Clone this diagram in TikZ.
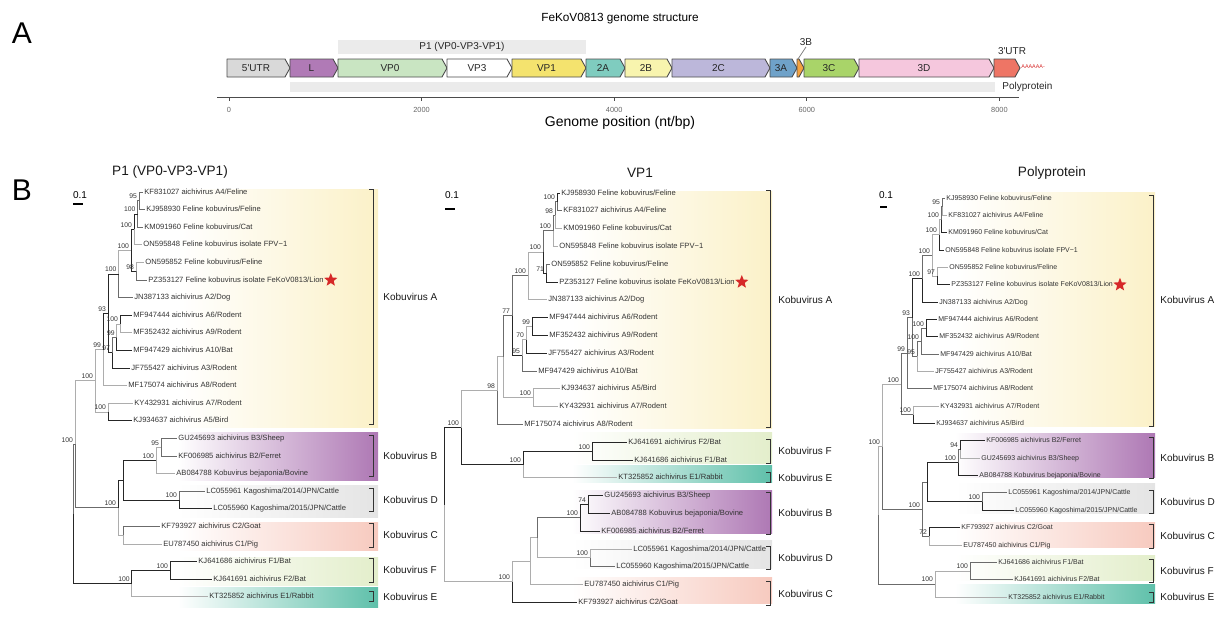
\documentclass[tikz,border=0pt]{standalone}
\usepackage{fontspec}
\setmainfont{Liberation Sans}
\usetikzlibrary{positioning,shapes.geometric}
\definecolor{gUTRfive}{HTML}{D9D9D9}
\definecolor{gL}{HTML}{B07AB6}
\definecolor{gVPzero}{HTML}{C9E5C2}
\definecolor{gVPone}{HTML}{F4E36E}
\definecolor{gTwoA}{HTML}{7FCCBF}
\definecolor{gTwoB}{HTML}{F8F4AE}
\definecolor{gTwoC}{HTML}{BCB7DA}
\definecolor{gThreeA}{HTML}{6FA2C9}
\definecolor{gThreeB}{HTML}{F4A23F}
\definecolor{gThreeC}{HTML}{A9D469}
\definecolor{gThreeD}{HTML}{F5C7DD}
\definecolor{gUTRthree}{HTML}{EE7565}
\definecolor{bandgrey}{HTML}{EBEBEB}
\definecolor{kA}{HTML}{FBF1C8}
\definecolor{kB}{HTML}{AE78B4}
\definecolor{kC}{HTML}{F7CABF}
\definecolor{kD}{HTML}{E4E4E4}
\definecolor{kE}{HTML}{5FC0AA}
\definecolor{kF}{HTML}{E3EECB}
\definecolor{starred}{HTML}{D62828}

\begin{document}
\begin{tikzpicture}[x=0.5pt, y=-0.5pt,
  genebox/.style={draw=black!70, line width=0.45pt, line join=round},
  genetxt/.style={font=\fontsize{5}{6}\selectfont, text=black!85, inner sep=0pt},
  annot/.style={font=\fontsize{5}{6}\selectfont, text=black!85, inner sep=0.5pt},
  ticklab/.style={font=\fontsize{3.7}{4}\selectfont, text=black!60, inner sep=0pt},
  panel/.style={font=\fontsize{15}{16}\selectfont, inner sep=0pt},
  ptitle/.style={font=\fontsize{6.8}{8}\selectfont, text=black!90, inner sep=0pt},
  leaf/.style={anchor=west, inner sep=0.5pt, font=\fontsize{3.8}{4}\selectfont, text=black!80, text height=2.7pt, text depth=0.7pt},
  leafsm/.style={leaf, font=\fontsize{3.5}{4}\selectfont},
  bs/.style={anchor=south east, inner sep=0.4pt, xshift=-0.4pt, yshift=0.4pt, font=\fontsize{3.4}{4}\selectfont, text=black!80},
  e1/.style={draw=black!85, line width=0.5pt},
  e2/.style={draw=black!58, line width=0.5pt},
  e3/.style={draw=black!32, line width=0.5pt},
  brk/.style={draw=black!80, line width=0.5pt},
  clade/.style={anchor=west, inner sep=0pt, font=\fontsize{5}{6}\selectfont, text=black!90},
  sclab/.style={font=\fontsize{5}{6}\selectfont, inner sep=0pt},
  scbar/.style={draw=black, line width=0.6pt},
  lionstar/.style={star, star points=5, star point ratio=2.3, fill=starred, draw=none, minimum size=7pt, inner sep=0pt}
]
\useasboundingbox (0,0) rectangle (1224,616);

% ---------------- A: genome structure ----------------
\node[panel] (pA) at (22,33) {A};
\node[font=\fontsize{5.9}{7}\selectfont, inner sep=0pt] (gtitle) at (620,19) {FeKoV0813 genome structure};

\fill[bandgrey] (338,40) rectangle (586,54);
\node[annot] (bandP) at (462,47) {P1 (VP0-VP3-VP1)};
\fill[bandgrey] (290,82) rectangle (995,92);
\node[annot, anchor=west] (bandPoly) at (1001,87) {Polyprotein};

\foreach \s/\e/\c/\t/\n in {227/290/gUTRfive/5\textquotesingle UTR/gu5, 290/338/gL/L/gL,
  338/447/gVPzero/VP0/gVP0, 447/512/white/VP3/gVP3, 512/586/gVPone/VP1/gVP1,
  586/625/gTwoA/2A/g2A, 625/672/gTwoB/2B/g2B, 672/770/gTwoC/2C/g2C,
  770/797/gThreeA/3A/g3A, 797/804/gThreeB/{}/g3B, 804/859/gThreeC/3C/g3C,
  859/994/gThreeD/3D/g3D, 994/1020/gUTRthree/{}/gu3} {
  \filldraw[genebox, fill=\c] (\s,59) -- ({\e-5},59) -- (\e,68) -- ({\e-5},77) -- (\s,77) -- cycle;
  \node[genetxt] (\n) at ({(\s+\e-5)/2},68) {\t};
}
\node[annot] (t3B) at (806,42) {3B};
\coordinate (p3B) at (798,59);
\draw[black!50, line width=0.4pt] (t3B.south) -- (p3B);
\node[annot] (t3UTR) at (1012,51) {3\textquotesingle UTR};
\node[anchor=west, inner sep=0pt, font=\fontsize{2.7}{3}\selectfont, text=starred] (polyA) at (1021,67) {AAAAAA-};

% axis
\draw[black!70, line width=0.5pt] (217,97) -- (1019,97);
\foreach \v in {0,2000,4000,6000,8000} {
  \draw[black!70, line width=0.5pt] ({229+0.0963*\v},97) -- ({229+0.0963*\v},101);
  \node[ticklab] (tk\v) at ({229+0.0963*\v},110) {\v};
}
\node[font=\fontsize{7}{8}\selectfont, inner sep=0pt] (xlab) at (620,123) {Genome position (nt/bp)};

% ---------------- B: trees ----------------
\node[panel] (pB) at (22,190) {B};
\node[ptitle] (t1) at (170,172) {P1 (VP0-VP3-VP1)};
\node[ptitle] (t2) at (640,173) {VP1};
\node[ptitle] (t3) at (1052,173) {Polyprotein};

% clade backgrounds
\foreach \t/\b/\c in {189/427/kA, 432/480/kB, 485/517/kD, 522/550/kC, 557/585/kF, 587/607/kE}
  \shade[left color=white, right color=\c] (178,\t) rectangle (378,\b);
\foreach \t/\b/\c in {191/428/kA, 432/463/kF, 465/482/kE, 490/533/kB, 540/568/kD, 577/603/kC}
  \shade[left color=white, right color=\c] (572,\t) rectangle (772,\b);
\foreach \t/\b/\c in {192/426/kA, 433/477/kB, 483/513/kD, 522/547/kC, 555/580/kF, 584/603/kE}
  \shade[left color=white, right color=\c] (955,\t) rectangle (1155,\b);

% clade brackets and names
\foreach \t/\b/\m/\k in {189/424/297/A, 435.4/476.6/456/B, 488.2/511.8/500/D,
  523.4/547/535.2/C, 558.6/582.2/570.4/F, 591.8/601.8/596.8/E} {
  \draw[brk] (369,\t) -- (373,\t) -- (373,\b) -- (369,\b);
  \node[clade] (pk\k) at (383,\m) {Kobuvirus \k};
}
\foreach \t/\b/\m/\k in {190/427.4/300/A, 439.2/463/451.1/F, 472.8/482.8/477.8/E,
  492.6/534.2/513.4/B, 546/569.8/557.9/D, 581.6/605.4/593.5/C} {
  \draw[brk] (766,\t) -- (770,\t) -- (770,\b) -- (766,\b);
  \node[clade] (vk\k) at (778,\m) {Kobuvirus \k};
}
\foreach \t/\b/\m/\k in {195/426.5/300/A, 437.9/478.6/458.25/B, 490/513.3/501.6/D,
  524.7/548/536.3/C, 559.4/582.7/571/F, 592/602/597/E} {
  \draw[brk] (1149,\t) -- (1153,\t) -- (1153,\b) -- (1149,\b);
  \node[clade] (yk\k) at (1160,\m) {Kobuvirus \k};
}

% scale bars
\node[sclab] (psc) at (80,195) {0.1};
\draw[scbar] (73,204) -- (83,204);
\node[sclab] (vsc) at (452,195) {0.1};
\draw[scbar] (445,209) -- (455,209);
\node[sclab] (ysc) at (886,195) {0.1};
\draw[scbar] (880,207) -- (887,207);

% ----- tree 1: P1 -----
\node[leaf] (pl1) at (143,192) {KF831027 aichivirus A4/Feline};
\node[leaf] (pl2) at (145,209.6) {KJ958930 Feline kobuvirus/Feline};
\node[leaf] (pl3) at (143,227.2) {KM091960 Feline kobuvirus/Cat};
\node[leaf] (pl4) at (142,244.8) {ON595848 Feline kobuvirus isolate FPV−1};
\node[leaf] (pl5) at (144,262.4) {ON595852 Feline kobuvirus/Feline};
\node[leaf] (pl6) at (147,280) {PZ353127 Feline kobuvirus isolate FeKoV0813/Lion};
\node[leaf] (pl7) at (133,297.6) {JN387133 aichivirus A2/Dog};
\node[leaf] (pl8) at (132,315.2) {MF947444 aichivirus A6/Rodent};
\node[leaf] (pl9) at (132,332.8) {MF352432 aichivirus A9/Rodent};
\node[leaf] (pl10) at (132,350.4) {MF947429 aichivirus A10/Bat};
\node[leaf] (pl11) at (130,368) {JF755427 aichivirus A3/Rodent};
\node[leaf] (pl12) at (127,385.6) {MF175074 aichivirus A8/Rodent};
\node[leaf] (pl13) at (133,403.2) {KY432931 aichivirus A7/Rodent};
\node[leaf] (pl14) at (132,420.8) {KJ934637 aichivirus A5/Bird};
\node[leaf] (pl15) at (177,438.4) {GU245693 aichivirus B3/Sheep};
\node[leaf] (pl16) at (177,456) {KF006985 aichivirus B2/Ferret};
\node[leaf] (pl17) at (175,473.6) {AB084788 Kobuvirus bejaponia/Bovine};
\node[leaf] (pl18) at (205,491.2) {LC055961 Kagoshima/2014/JPN/Cattle};
\node[leaf] (pl19) at (212,508.8) {LC055960 Kagoshima/2015/JPN/Cattle};
\node[leaf] (pl20) at (160,526.4) {KF793927 aichivirus C2/Goat};
\node[leaf] (pl21) at (162,544) {EU787450 aichivirus C1/Pig};
\node[leaf] (pl22) at (197,561.6) {KJ641686 aichivirus F1/Bat};
\node[leaf] (pl23) at (212,579.2) {KJ641691 aichivirus F2/Bat};
\node[leaf] (pl24) at (208,596.8) {KT325852 aichivirus E1/Rabbit};
\node[lionstar, right=0.5pt of pl6] (pstar) {};

\coordinate (p12) at (139,200.8);
\coordinate (p123) at (137.5,214);
\coordinate (p1234) at (134,229.4);
\coordinate (p56) at (136,271.2);
\coordinate (pfel) at (131,250.3);
\coordinate (pA1) at (118.5,274);
\coordinate (p89) at (120,324);
\coordinate (p8910) at (116.7,337.2);
\coordinate (pA6) at (112,352.6);
\coordinate (p93) at (108,313.3);
\coordinate (p99) at (103,349.5);
\coordinate (p1314) at (108,412);
\coordinate (pA) at (95,380.7);
\coordinate (p1516) at (161,447.2);
\coordinate (pB) at (156,460.4);
\coordinate (pD) at (179,500);
\coordinate (pBD) at (123.3,480.2);
\coordinate (pC) at (123.3,535.2);
\coordinate (pBDC) at (118,507.7);
\coordinate (pR1) at (75,444.2);
\coordinate (pF) at (170,570.4);
\coordinate (pFE) at (131.7,583.6);
\coordinate (proot) at (73,513.9);

\foreach \p/\c/\s in {p12/pl1/e2, p12/pl2/e2, p123/p12/e2, p123/pl3/e2, p1234/p123/e1, p1234/pl4/e3,
  p56/pl5/e3, p56/pl6/e2, pfel/p1234/e1, pfel/p56/e1, pA1/pfel/e3, pA1/pl7/e2,
  p89/pl8/e1, p89/pl9/e3, p8910/p89/e3, p8910/pl10/e1, pA6/p8910/e2, pA6/pl11/e1,
  p93/pA1/e1, p93/pA6/e1, p99/p93/e1, p99/pl12/e3, p1314/pl13/e3, p1314/pl14/e1,
  pA/p99/e3, pA/p1314/e3, pR1/pA/e3, p1516/pl15/e2, p1516/pl16/e2, pB/p1516/e3, pB/pl17/e3,
  pD/pl18/e2, pD/pl19/e1, pBD/pB/e1, pBD/pD/e1, pC/pl20/e2, pC/pl21/e3,
  pBDC/pBD/e1, pBDC/pC/e3, pR1/pBDC/e2, pF/pl22/e1, pF/pl23/e1, pFE/pF/e1, pFE/pl24/e3,
  proot/pR1/e2, proot/pFE/e1}
  \draw[\s] (\p) |- (\c);

\foreach \n/\v in {p12/95, p123/100, p1234/100, p56/98, pfel/100, pA1/100, p89/100, p8910/99,
  pA6/97, p93/93, p99/99, p1314/100, pA/100, pR1/100, p1516/95, pB/100, pD/100, pBDC/100,
  pF/100, pFE/100}
  \node[bs] (bs\n) at (\n) {\v};

% ----- tree 2: VP1 -----
\node[leaf] (vl1) at (560,193) {KJ958930 Feline kobuvirus/Feline};
\node[leaf] (vl2) at (562,210.8) {KF831027 aichivirus A4/Feline};
\node[leaf] (vl3) at (562,228.6) {KM091960 Feline kobuvirus/Cat};
\node[leaf] (vl4) at (558,246.4) {ON595848 Feline kobuvirus isolate FPV−1};
\node[leaf] (vl5) at (550,264.2) {ON595852 Feline kobuvirus/Feline};
\node[leaf] (vl6) at (558,282) {PZ353127 Feline kobuvirus isolate FeKoV0813/Lion};
\node[leaf] (vl7) at (547,299.8) {JN387133 aichivirus A2/Dog};
\node[leaf] (vl8) at (548,317.6) {MF947444 aichivirus A6/Rodent};
\node[leaf] (vl9) at (548,335.4) {MF352432 aichivirus A9/Rodent};
\node[leaf] (vl10) at (547,353.2) {JF755427 aichivirus A3/Rodent};
\node[leaf] (vl11) at (537,371) {MF947429 aichivirus A10/Bat};
\node[leaf] (vl12) at (560,388.8) {KJ934637 aichivirus A5/Bird};
\node[leaf] (vl13) at (558,406.6) {KY432931 aichivirus A7/Rodent};
\node[leaf] (vl14) at (523,424.4) {MF175074 aichivirus A8/Rodent};
\node[leaf] (vl15) at (627,442.2) {KJ641691 aichivirus F2/Bat};
\node[leaf] (vl16) at (633,460) {KJ641686 aichivirus F1/Bat};
\node[leaf] (vl17) at (617,477.8) {KT325852 aichivirus E1/Rabbit};
\node[leaf] (vl18) at (603,495.6) {GU245693 aichivirus B3/Sheep};
\node[leaf] (vl19) at (610,513.4) {AB084788 Kobuvirus bejaponia/Bovine};
\node[leaf] (vl20) at (600,531.2) {KF006985 aichivirus B2/Ferret};
\node[leaf] (vl21) at (632,549) {LC055961 Kagoshima/2014/JPN/Cattle};
\node[leaf] (vl22) at (615,566.8) {LC055960 Kagoshima/2015/JPN/Cattle};
\node[leaf] (vl23) at (583,584.6) {EU787450 aichivirus C1/Pig};
\node[leaf] (vl24) at (577,602.4) {KF793927 aichivirus C2/Goat};
\node[lionstar, right=0.5pt of vl6] (vstar) {};

\coordinate (v12) at (557,201.9);
\coordinate (v123) at (555,215.3);
\coordinate (v1234) at (553,230.9);
\coordinate (v56) at (546,273.1);
\coordinate (vfel) at (543,252);
\coordinate (vA1) at (528,275.9);
\coordinate (v89) at (532,326.5);
\coordinate (v70) at (526,339.9);
\coordinate (v95) at (522,355.5);
\coordinate (v77) at (512,315.7);
\coordinate (v1213) at (533,397.7);
\coordinate (vAr) at (503,356.7);
\coordinate (vA) at (497,390.6);
\coordinate (vF) at (592,451.1);
\coordinate (vFE) at (523,464.5);
\coordinate (vtop) at (461,427.5);
\coordinate (vB1) at (588,504.5);
\coordinate (vB) at (580,517.9);
\coordinate (vD) at (590,557.9);
\coordinate (vBD) at (537,537.9);
\coordinate (vX) at (530,561.3);
\coordinate (vBDC) at (512,581.9);
\coordinate (vroot) at (444,504.7);

\foreach \p/\c/\s in {v12/vl1/e1, v12/vl2/e2, v123/v12/e2, v123/vl3/e3, v1234/v123/e2, v1234/vl4/e3,
  v56/vl5/e2, v56/vl6/e1, vfel/v1234/e2, vfel/v56/e1, vA1/vfel/e3, vA1/vl7/e3,
  v89/vl8/e1, v89/vl9/e1, v70/v89/e3, v70/vl10/e1, v95/v70/e3, v95/vl11/e2,
  v77/vA1/e2, v77/v95/e1, v1213/vl12/e3, v1213/vl13/e3, vAr/v77/e2, vAr/v1213/e3,
  vA/vAr/e3, vA/vl14/e2, vtop/vA/e3, vF/vl15/e1, vF/vl16/e1, vFE/vF/e1, vFE/vl17/e3,
  vtop/vFE/e1, vB1/vl18/e1, vB1/vl19/e1, vB/vB1/e1, vB/vl20/e1, vD/vl21/e3, vD/vl22/e2,
  vBD/vB/e2, vBD/vD/e3, vX/vBD/e3, vX/vl23/e3, vBDC/vX/e3, vBDC/vl24/e1,
  vroot/vtop/e1, vroot/vBDC/e3}
  \draw[\s] (\p) |- (\c);

\foreach \n/\v in {v12/100, v123/98, v1234/100, v56/71, vfel/100, vA1/100, v89/99, v70/70,
  v95/95, v77/77, v1213/100, vA/98, vtop/100, vF/100, vFE/100, vB1/74, vB/100, vD/100, vBDC/100}
  \node[bs] (bs\n) at (\n) {\v};

% ----- tree 3: polyprotein -----
\node[leafsm] (yl1) at (945,198) {KJ958930 Feline kobuvirus/Feline};
\node[leafsm] (yl2) at (947,215.35) {KF831027 aichivirus A4/Feline};
\node[leafsm] (yl3) at (947,232.7) {KM091960 Feline kobuvirus/Cat};
\node[leafsm] (yl4) at (944,250.05) {ON595848 Feline kobuvirus isolate FPV−1};
\node[leafsm] (yl5) at (948,267.4) {ON595852 Feline kobuvirus/Feline};
\node[leafsm] (yl6) at (950,284.75) {PZ353127 Feline kobuvirus isolate FeKoV0813/Lion};
\node[leafsm] (yl7) at (938,302.1) {JN387133 aichivirus A2/Dog};
\node[leafsm] (yl8) at (937,319.45) {MF947444 aichivirus A6/Rodent};
\node[leafsm] (yl9) at (938,336.8) {MF352432 aichivirus A9/Rodent};
\node[leafsm] (yl10) at (939,354.15) {MF947429 aichivirus A10/Bat};
\node[leafsm] (yl11) at (934,371.5) {JF755427 aichivirus A3/Rodent};
\node[leafsm] (yl12) at (932,388.85) {MF175074 aichivirus A8/Rodent};
\node[leafsm] (yl13) at (939,406.2) {KY432931 aichivirus A7/Rodent};
\node[leafsm] (yl14) at (935,423.55) {KJ934637 aichivirus A5/Bird};
\node[leafsm] (yl15) at (985,440.9) {KF006985 aichivirus B2/Ferret};
\node[leafsm] (yl16) at (980,458.25) {GU245693 aichivirus B3/Sheep};
\node[leafsm] (yl17) at (978,475.6) {AB084788 Kobuvirus bejaponia/Bovine};
\node[leafsm] (yl18) at (1007,492.95) {LC055961 Kagoshima/2014/JPN/Cattle};
\node[leafsm] (yl19) at (1014,510.3) {LC055960 Kagoshima/2015/JPN/Cattle};
\node[leafsm] (yl20) at (960,527.65) {KF793927 aichivirus C2/Goat};
\node[leafsm] (yl21) at (962,545) {EU787450 aichivirus C1/Pig};
\node[leafsm] (yl22) at (997,562.35) {KJ641686 aichivirus F1/Bat};
\node[leafsm] (yl23) at (1013,579.7) {KJ641691 aichivirus F2/Bat};
\node[leafsm] (yl24) at (1007,597.05) {KT325852 aichivirus E1/Rabbit};
\node[lionstar, right=0.5pt of yl6] (ystar) {};

\coordinate (y12) at (942,206.7);
\coordinate (y123) at (941,219.7);
\coordinate (y1234) at (939,234.9);
\coordinate (y56) at (937,276.1);
\coordinate (yfel) at (932,255.5);
\coordinate (yA1) at (922,278.8);
\coordinate (y89) at (926,328.1);
\coordinate (y8910) at (921,341.1);
\coordinate (yA6) at (917,356.3);
\coordinate (y93) at (912,317.6);
\coordinate (y99) at (907,353.2);
\coordinate (y1314) at (913,414.9);
\coordinate (yA) at (901,384.1);
\coordinate (y1516) at (960,449.6);
\coordinate (yB) at (958,462.6);
\coordinate (yD) at (982,501.6);
\coordinate (yBD) at (927,482.1);
\coordinate (yC) at (929,536.3);
\coordinate (yBDC) at (922,509.2);
\coordinate (yR1) at (882,446.7);
\coordinate (yF) at (970,571);
\coordinate (yFE) at (935,584);
\coordinate (yroot) at (878,515.4);

\foreach \p/\c/\s in {y12/yl1/e2, y12/yl2/e3, y123/y12/e2, y123/yl3/e1, y1234/y123/e3, y1234/yl4/e1,
  y56/yl5/e3, y56/yl6/e1, yfel/y1234/e3, yfel/y56/e3, yA1/yfel/e2, yA1/yl7/e1,
  y89/yl8/e1, y89/yl9/e1, y8910/y89/e2, y8910/yl10/e2, yA6/y8910/e2, yA6/yl11/e3,
  y93/yA1/e1, y93/yA6/e2, y99/y93/e2, y99/yl12/e2, y1314/yl13/e3, y1314/yl14/e1,
  yA/y99/e2, yA/y1314/e2, yR1/yA/e3, y1516/yl15/e1, y1516/yl16/e3, yB/y1516/e2, yB/yl17/e1,
  yD/yl18/e2, yD/yl19/e1, yBD/yB/e1, yBD/yD/e1, yC/yl20/e1, yC/yl21/e3,
  yBDC/yBD/e2, yBDC/yC/e2, yR1/yBDC/e2, yF/yl22/e2, yF/yl23/e2, yFE/yF/e3, yFE/yl24/e3,
  yroot/yR1/e3, yroot/yFE/e2}
  \draw[\s] (\p) |- (\c);

\foreach \n/\v in {y12/95, y123/100, y1234/100, y56/97, yfel/100, yA1/100, y89/100, y8910/100,
  yA6/95, y93/93, y99/99, y1314/100, yA/100, yR1/100, y1516/94, yB/100, yD/100, yC/72,
  yBDC/100, yF/100, yFE/100}
  \node[bs] (bs\n) at (\n) {\v};

\end{tikzpicture}
\end{document}
